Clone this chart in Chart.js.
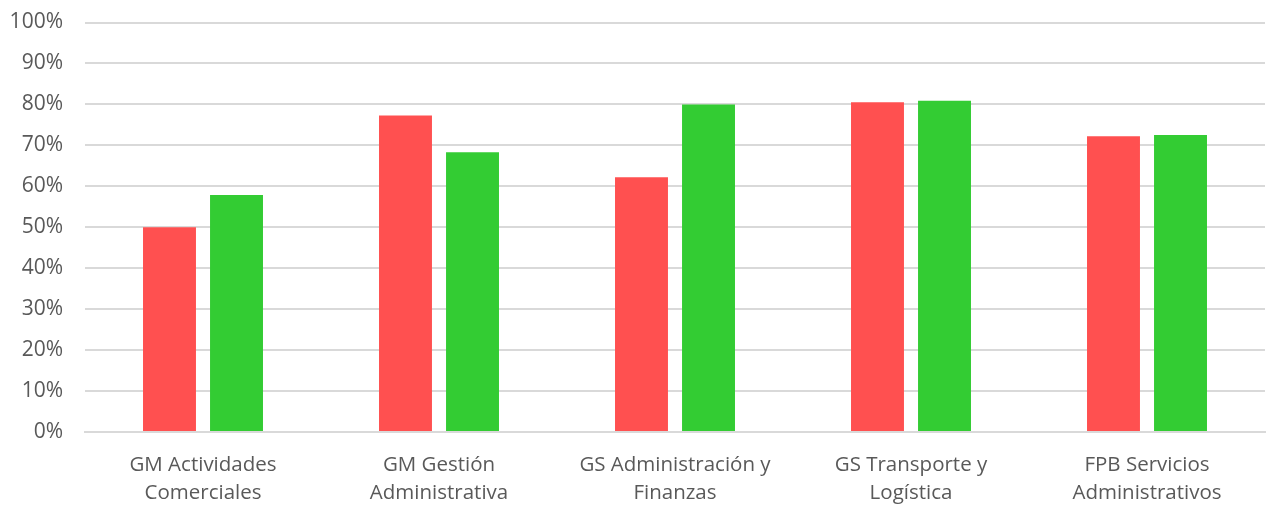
<!DOCTYPE html>
<html>
<head>
<meta charset="utf-8">
<script src="https://cdn.jsdelivr.net/npm/chart.js@4"></script>
<style>
  html, body { margin: 0; padding: 0; background: #fff; overflow: hidden; }
  #wrap { width: 1269px; height: 517px; margin-top: -10px; }
</style>
</head>
<body>
<div id="wrap"><canvas id="BarChart"></canvas></div>
<script>
const course_labels = [
    ['GM Actividades', 'Comerciales'],
    ['GM Gestión', 'Administrativa'],
    ['GS Administración y', 'Finanzas'],
    ['GS Transporte y', 'Logística'],
    ['FPB Servicios', 'Administrativos']
];
const red_values = [50.0, 77.3, 62.2, 80.5, 72.2];
const green_values = [57.9, 68.3, 80.0, 80.9, 72.5];
const y_ticks = [0, 10, 20, 30, 40, 50, 60, 70, 80, 90, 100];

const bar_data = {
    labels: course_labels,
    datasets: [{
        label: 'Serie 1',
        data: red_values,
        backgroundColor: '#FF5050',
        categoryPercentage: 0.568,
        barPercentage: 0.79
    }, {
        label: 'Serie 2',
        data: green_values,
        backgroundColor: '#33CC33',
        categoryPercentage: 0.568,
        barPercentage: 0.79
    }]
};

const configBar = {
    type: 'bar',
    data: bar_data,
    options: {
        responsive: true,
        maintainAspectRatio: false,
        animation: false,
        layout: { padding: { top: 0, right: 4, left: 0, bottom: 2 } },
        plugins: {
            legend: { display: false },
            tooltip: { enabled: false }
        },
        scales: {
            x: {
                afterFit: axis => { axis.height = 73; },
                grid: { display: false },
                border: { color: '#d9d9d9', width: 2 },
                ticks: {
                    color: '#595959',
                    font: { family: 'Open Sans', size: 20.5, lineHeight: 1.36 },
                    maxRotation: 0,
                    padding: 11
                }
            },
            y: {
                min: 0,
                max: 100,
                afterBuildTicks: axis => { axis.ticks = y_ticks.map(v => ({ value: v })); },
                afterFit: axis => { axis.width = 85; },
                grid: { color: '#d9d9d9', lineWidth: 2, drawTicks: false },
                border: { display: false },
                ticks: {
                    color: '#595959',
                    font: { family: 'Open Sans', size: 21, lineHeight: 1 },
                    padding: 22,
                    callback: v => v + '%'
                }
            }
        }
    }
};

const BarChart = new Chart(
    document.getElementById('BarChart'),
    configBar
);
</script>
</body>
</html>
